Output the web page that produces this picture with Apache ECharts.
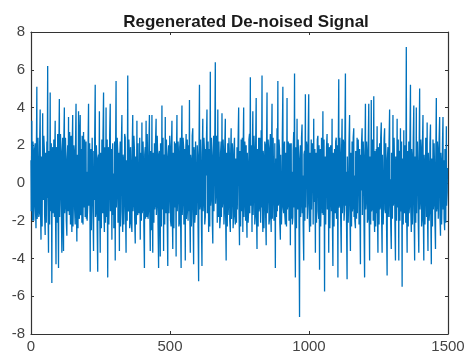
<!DOCTYPE html>
<html><head><meta charset="utf-8">
<script src="https://cdn.jsdelivr.net/npm/echarts@6/dist/echarts.min.js"></script>
<style>html,body{margin:0;padding:0;background:#fff}#c{width:468px;height:358px}</style>
</head><body><div id="c"></div>
<script>
// Samples are read in groups of 3: "signal" at index 3i, "signalMid" at index 3i+1
const sampleStep = 3;
const titleText = 'Regenerated De-noised Signal';
const xTicks = [0, 500, 1000, 1500];
const yTicks = [-8, -6, -4, -2, 0, 2, 4, 6, 8];
// Signal values (peaks and body of the trace)
const signal = [
 1.2, 3.3, -2.0, 1.5, -0.8, 2.1, -2.4, 5.1, -1.3, 0.6,
 -1.6, 3.9, -3.0, 1.1, 3.7, -0.9, 1.8, -2.75, 0.4, 2.2,
 6.2, -3.7, 0.8, 4.8, -1.5, -5.3, 1.9, -0.4, -1.8, 3.3,
 -4.3, 1.4, 2.6, -4.5, 4.45, -0.2, 1.7, -3.7, 2.4, -3.6,
 4.0, -1.1, 0.9, -2.8, 2.0, 3.5, -1.7, 0.3, 2.5, -2.6,
 3.6, -0.6, 1.6, -2.2, 4.2, -3.1, 0.7, 3.8, -1.9, 3.6,
 -1.4, -2.1, 1.3, 2.7, -0.5, -1.8, 2.2, 0.6, -1.2, 4.2,
 -0.7, -4.7, 1.8, 0.2, 2.4, -3.6, -0.9, 5.2, -1.5, 1.1,
 -4.7, 1.5, 3.8, -3.7, 0.4, 2.3, -1.6, 4.8, -2.6, 1.0,
 4.0, -0.8, -5.0, 1.9, 0.1, 4.2, -1.4, -3.0, 2.1, 0.5,
 -1.2, -4.1, 5.4, -0.3, 1.7, -1.9, -3.6, 2.2, 0.8, 3.6,
 -2.6, 1.2, -0.6, 2.4, -3.7, 0.9, 5.7, -1.5, 1.4, -2.0,
 0.7, -2.6, 3.6, -1.0, 1.8, -3.2, 0.3, 3.3, -1.7, 2.0,
 -0.5, -3.0, 1.6, 3.2, -1.3, 0.8, -4.5, 1.9, 3.3, -1.8,
 0.6, -1.4, 3.6, -3.6, 1.0, 3.6, -3.7, 0.2, 2.1, -1.1,
 3.4, -0.9, 1.3, -4.5, 1.7, -3.9, 0.4, 4.1, -1.2, -3.6,
 1.5, 3.5, -1.6, 0.9, -4.4, 2.0, -0.4, 1.8, -2.3, 3.3,
 -3.5, 0.8, 2.2, -1.0, -3.9, 3.6, -0.6, 1.4, -2.1, 2.4,
 -4.5, 4.1, -0.7, 1.9, 0.2, -4.1, 2.6, -1.3, 0.9, 2.0,
 4.4, -3.7, 1.1, -0.8, 2.9, -4.3, 1.6, -1.5, 2.3, -0.2,
 1.3, -5.2, 5.2, -1.1, 0.5, -4.4, 3.4, -0.9, 1.7, -1.8,
 0.4, 3.9, -1.2, -2.6, 1.8, 5.9, -0.7, 1.2, -3.2, 2.5,
 -1.5, 6.4, -0.4, 1.6, 3.9, -1.8, 0.8, -1.9, 2.2, 3.7,
 -0.9, 1.5, -1.4, 3.4, -4.1, 0.6, 2.1, -1.0, 1.3, -2.6,
 2.9, -0.5, 1.2, -1.7, 2.4, -2.2, 0.3, 1.9, -1.3, 4.0,
 -3.3, 1.0, 2.3, -0.6, -2.6, 4.0, -0.8, 1.5, 2.0, -2.9,
 0.7, -1.4, 2.6, 5.6, -0.9, -2.6, 3.8, -0.3, 1.6, -1.7,
 4.5, -3.5, 1.1, 2.4, -1.2, 0.5, 2.8, 5.7, -2.6, 1.3,
 -0.8, 2.0, -3.3, 4.8, -0.4, 1.7, -1.9, 2.6, -2.6, 4.2,
 0.2, 2.3, -1.2, -4.5, 1.4, 2.9, 5.4, -1.0, 1.8, -3.0,
 1.5, -0.7, 5.1, -1.6, 2.2, -2.2, 0.9, 4.5, -1.1, 1.9,
 -0.5, -3.3, 2.1, 0.6, -1.8, 2.7, 5.8, -5.0, 1.2, 3.4,
 -1.4, 1.0, -7.1, 2.0, -0.9, 3.1, 0.4, -4.1, 1.7, 4.7,
 -1.2, 1.9, -0.6, 4.7, -2.6, 0.8, 2.3, -1.5, 1.1, 3.4,
 -0.4, -3.7, 1.6, 0.3, 2.5, -1.9, -4.6, 1.8, -0.7, 2.2,
 3.8, -1.0, -5.75, 1.4, 0.5, 2.6, -1.3, -3.7, 1.9, -0.2,
 2.0, 3.4, -4.4, 0.7, 1.8, -1.6, 2.4, -0.5, -5.0, 5.5,
 -1.1, 1.3, -3.7, 3.4, -0.8, 2.1, -1.4, 5.8, 0.6, -5.1,
 1.5, -0.6, 3.6, -3.6, 1.0, 2.2, -1.2, 2.9, 0.4, -2.4,
 1.1, 2.4, -1.5, 0.6, 1.8, -4.3, -0.4, 2.9, -1.7, 1.2,
 -5.0, 4.2, -0.8, 1.5, -1.9, 4.2, -4.1, 0.9, 4.4, -1.3,
 1.0, 4.6, -2.6, 0.5, 1.8, 3.0, -3.7, 0.8, 2.1, -1.2,
 3.2, -3.7, 1.4, -0.3, 2.9, -1.6, 0.7, -4.9, 1.9, -0.8,
 3.9, 0.2, -3.5, 1.2, 3.6, -1.0, 0.6, -4.1, 1.5, 3.4,
 -0.9, -4.1, 1.7, 2.9, -1.3, -5.5, 1.0, 2.8, -1.6, 0.8,
 7.2, -3.7, 0.9, 2.2, -1.1, 5.2, -2.6, 1.3, -0.5, 4.1,
 -4.1, 1.4, 4.0, -1.5, 0.6, -3.7, 5.0, -0.8, 1.7, -1.9,
 3.6, -4.1, 1.0, -0.4, 2.0, 3.2, -3.6, 0.7, -1.4, 3.1,
 -4.3, 1.2, 2.3, -1.0, 0.5, -3.5, 4.5, -1.2, 1.6, 0.2,
 3.5, -2.8, 1.0, -0.6, 3.5, 1.2, -2.5, 0.4, 3.0, -0.5
];
// In-between samples (dense core band of the trace)
const signalMid = [
 -1.5, -0.9, 2.2, -2.0, 1.8, -1.3, 0.9, -1.9, 2.4, -1.8,
 2.0, -1.2, 1.4, -2.3, -0.6, 2.5, -1.7, 1.6, -2.1, -0.8,
 -1.0, 1.7, -2.2, -0.9, 2.1, 0.8, -1.6, 2.3, 1.2, -1.4,
 1.9, -2.1, -0.7, 1.5, -1.8, 2.6, -1.2, 1.3, -1.9, 2.2,
 -1.6, 2.4, -2.0, 1.2, -1.5, -0.8, 2.7, -2.2, -0.5, 1.8,
 -2.3, 2.0, -1.4, 1.9, -0.9, 1.5, -2.4, -1.1, 2.6, -1.7,
 1.8, 2.5, -2.2, -1.3, 2.3, 1.4, -1.9, -2.0, 1.6, -1.2,
 2.1, 1.0, -2.5, 2.4, -1.6, 1.7, 2.2, -1.8, 2.0, -2.3,
 1.3, -2.0, -1.1, 1.6, -2.4, -0.7, 2.5, -1.4, 1.9, -2.1,
 -1.8, 2.3, 1.2, -2.2, 2.6, -1.5, 1.8, 1.4, -1.7, -2.4,
 2.2, 0.9, -1.3, 2.4, -2.1, 1.6, 1.1, -2.3, 2.0, -1.5,
 1.5, -2.2, 2.6, -1.4, 1.2, -2.0, -1.3, 2.3, -2.4, 1.9,
 -2.1, 1.8, -1.5, 2.5, -1.9, 1.4, -2.2, -1.2, 2.1, -1.6,
 2.4, 1.3, -2.0, -1.6, 2.2, -2.3, 1.5, -1.9, -0.9, 2.6,
 -1.9, 2.0, -1.2, 1.7, -2.5, -1.0, 1.6, -2.1, -1.4, 2.2,
 -1.7, 2.5, -2.2, 1.5, -1.6, 2.1, -2.3, -1.4, 2.4, 1.3,
 -2.2, -1.1, 2.3, -1.9, 1.4, -1.6, 2.5, -2.0, 1.7, -1.3,
 1.6, -2.4, -1.3, 2.1, 1.2, -1.5, 2.2, -2.3, 1.9, -1.8,
 1.4, -1.7, 2.4, -2.2, 1.8, 1.1, -1.9, 2.3, -2.0, -1.5,
 -1.3, 1.5, -2.3, 2.5, -1.6, 1.9, -2.1, 2.2, -1.7, 2.0,
 -2.4, 1.2, -1.4, 2.3, -2.0, 1.6, -1.5, 2.4, -2.2, 1.8,
 2.1, -1.6, 2.2, 1.0, -2.3, -1.2, 2.4, -1.9, 1.3, -1.5,
 2.0, -1.1, 2.5, -2.1, -1.4, 2.2, -2.4, 1.6, -1.8, -1.3,
 2.3, -2.2, 1.9, -1.5, 1.6, -2.3, -1.7, 2.4, -2.0, 1.4,
 -1.9, 2.1, -2.4, 1.8, -1.6, 1.3, -2.1, -1.4, 2.3, -1.2,
 1.7, -2.3, -1.5, 2.4, 1.5, -1.8, 2.2, -2.0, -1.3, 1.6,
 -2.1, 2.3, -1.6, -1.2, 2.0, 1.4, -1.7, 2.5, -2.2, 1.9,
 -1.4, 1.8, -2.3, -1.5, 2.4, -2.1, -1.3, -1.0, 1.7, -2.4,
 2.2, -1.7, 1.5, -1.6, 2.3, -2.2, 1.8, -1.4, 1.2, -1.9,
 2.4, -2.0, 2.1, 1.3, -1.8, -1.5, -1.2, 2.3, -2.1, 1.5,
 -2.2, 2.4, -1.3, 1.9, -1.7, 1.6, -2.3, -1.4, 2.2, -2.0,
 2.1, 1.4, -1.9, -2.2, 1.7, -1.3, -0.8, 1.9, -2.4, -1.1,
 2.3, -2.1, 1.2, -1.8, 2.4, -1.6, -2.2, 1.5, -2.0, -1.3,
 2.2, -1.9, 2.4, -1.2, 1.6, -2.3, -1.4, 2.1, -2.2, -1.0,
 1.8, 1.3, -2.1, 2.3, -1.5, 2.0, 1.2, -2.3, 2.4, -1.6,
 -1.7, 2.3, 1.1, -2.2, 1.9, -1.4, 2.1, 1.3, -2.4, 2.0,
 -1.5, -1.8, 1.6, -2.3, -1.2, 2.2, -1.9, 2.0, 1.0, -1.3,
 2.4, -1.9, 1.5, -1.6, 2.3, -2.0, 2.2, -1.2, -2.1, 1.4,
 -2.1, 2.2, -1.4, 1.6, -2.3, -1.5, 2.4, -1.8, -2.0, 1.7,
 -1.9, -1.6, 2.3, -2.2, -1.3, 1.5, 2.1, -1.7, 2.2, -2.3,
 1.2, -1.4, 2.2, -2.1, 1.8, -1.1, 1.4, -2.2, -1.5, 2.3,
 -2.0, -1.3, 1.7, -2.3, -1.6, -1.2, 1.9, -2.2, -1.4, 2.4,
 -1.6, 1.5, -2.2, 2.3, -1.4, 2.1, -2.3, 1.3, -1.8, 2.2,
 -1.8, -2.2, 1.6, -1.9, -1.2, 2.4, -2.1, 1.4, -2.0, -1.3,
 2.3, 1.5, -2.0, -1.5, 2.2, 1.3, -2.2, -1.4, 2.0, -2.1,
 -1.2, 1.7, -2.3, -1.6, 2.1, -1.3, 1.8, -2.2, 2.3, -1.5,
 1.4, -2.1, -1.6, 2.2, -2.0, 1.3, -1.4, 2.3, -2.3, 2.0,
 -1.5, 1.5, -2.2, 2.4, -1.8, -1.4, 1.6, -2.0, 2.1, -1.6,
 1.3, -2.3, -1.4, 2.1, -2.0, 1.2, -1.5, 2.2, -1.9, 2.3,
 -1.7, 1.6, -2.2, 2.0, -1.4, -1.9, 1.8, -2.1, -1.2, 0.8
];

const points = [];
signal.forEach((v, i) => {
  points.push([i * sampleStep, v]);
  points.push([i * sampleStep + 1, signalMid[i]]);
});

const chart = echarts.init(document.getElementById('c'), null, {renderer: 'canvas'});
const axisColor = '#333333';
const labelColor = '#444444';
const font = 'Liberation Sans, Arial, Helvetica, sans-serif';
const xBase = {
  type: 'value', min: xTicks[0], max: xTicks[xTicks.length - 1], interval: 500,
  axisLine: {show: true, onZero: false, lineStyle: {color: axisColor, width: 1.2}},
  axisTick: {show: true, inside: true, length: 3, lineStyle: {color: axisColor}},
  splitLine: {show: false}
};
const yBase = {
  type: 'value', min: yTicks[0], max: yTicks[yTicks.length - 1], interval: 2,
  axisLine: {show: true, onZero: false, lineStyle: {color: axisColor, width: 1.2}},
  axisTick: {show: true, inside: true, length: 3, lineStyle: {color: axisColor}},
  splitLine: {show: false}
};
chart.setOption({
  animation: false,
  backgroundColor: '#ffffff',
  title: {
    text: titleText, left: 241, top: 9, textAlign: 'center',
    textStyle: {fontSize: 17, fontWeight: 'bold', color: '#1a1a1a', fontFamily: font}
  },
  grid: {left: 31, right: 20, top: 32, bottom: 24, containLabel: false},
  xAxis: [
    Object.assign({}, xBase, {position: 'bottom',
      axisLabel: {show: true, margin: 5, color: labelColor, fontSize: 15, fontFamily: font,
        formatter: v => String(v)}}),
    Object.assign({}, xBase, {position: 'top', axisLabel: {show: false}})
  ],
  yAxis: [
    Object.assign({}, yBase, {position: 'left',
      axisLabel: {show: true, margin: 6, color: labelColor, fontSize: 15, fontFamily: font,
        formatter: v => String(v)}}),
    Object.assign({}, yBase, {position: 'right', axisLabel: {show: false}})
  ],
  series: [{
    type: 'line',
    data: points,
    xAxisIndex: 0, yAxisIndex: 0,
    showSymbol: false, symbol: 'none',
    lineStyle: {color: '#0072BD', width: 1.3},
    sampling: null,
    clip: true
  }]
});
</script></body></html>
